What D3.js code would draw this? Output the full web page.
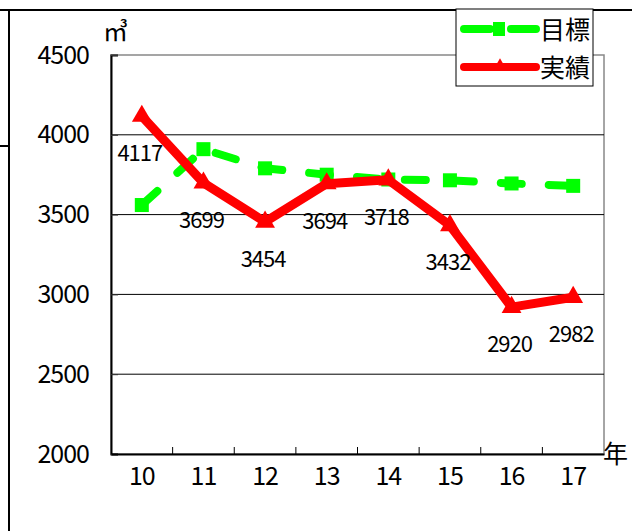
<!DOCTYPE html>
<html>
<head>
<meta charset="utf-8">
<script src="https://cdn.jsdelivr.net/npm/d3@7"></script>
<style>
  body { margin: 0; background: #fff; }
  svg { font-family: "Noto Sans CJK JP", "DejaVu Sans", sans-serif; }
</style>
</head>
<body>
<div id="chart-area"></div>
<script>
// data
var years = ["10", "11", "12", "13", "14", "15", "16", "17"];
var target = [3560, 3910, 3790, 3750, 3720, 3715, 3695, 3680];
var actual = [4117, 3699, 3454, 3694, 3718, 3432, 2920, 2982];
var yTicks = [2000, 2500, 3000, 3500, 4000, 4500];

var width = 632, height = 531;
var plotLeft = 111, plotRight = 604, plotTop = 55, plotBottom = 454;

var svg = d3
  .select("#chart-area")
  .append("svg")
  .attr("width", width)
  .attr("height", height);

// outer frame lines (page table borders)
svg.append("line").attr("x1", 0).attr("x2", width).attr("y1", 10).attr("y2", 10)
  .attr("stroke", "#000").attr("stroke-width", 2);
svg.append("line").attr("x1", 9).attr("x2", 9).attr("y1", 10).attr("y2", height)
  .attr("stroke", "#000").attr("stroke-width", 2);
svg.append("line").attr("x1", 0).attr("x2", 9).attr("y1", 146).attr("y2", 146)
  .attr("stroke", "#000").attr("stroke-width", 2);

var x = d3.scaleBand().domain(years).range([plotLeft, plotRight]);
var y = d3.scaleLinear().domain([2000, 4500]).range([plotBottom, plotTop]);

// plot frame (top/right in gray)
svg.append("rect")
  .attr("x", plotLeft).attr("y", plotTop)
  .attr("width", plotRight - plotLeft).attr("height", plotBottom - plotTop)
  .attr("fill", "#fff").attr("stroke", "#888").attr("stroke-width", 1.5);

// gridlines
svg.selectAll(".grid")
  .data(yTicks.filter(d => d > 2000 && d < 4500))
  .enter()
  .append("line")
  .attr("x1", plotLeft).attr("x2", plotRight)
  .attr("y1", d => y(d)).attr("y2", d => y(d))
  .attr("stroke", "#000").attr("stroke-width", 1);

// y axis
var yAxis = svg.append("g")
  .attr("transform", "translate(" + plotLeft + ",0)")
  .call(d3.axisLeft(y).tickValues(yTicks).tickFormat(d3.format("d")).tickSize(-7).tickPadding(22));
yAxis.select(".domain").attr("stroke", "#000").attr("stroke-width", 2);
yAxis.selectAll(".tick line").attr("stroke", "#333");
yAxis.selectAll("text").attr("font-size", 25).attr("letter-spacing", -1).attr("fill", "#000")
  .attr("font-family", "Noto Sans CJK JP");

// x axis, ticks at band boundaries
var xAxis = svg.append("g")
  .attr("transform", "translate(0," + plotBottom + ")")
  .call(d3.axisBottom(x).tickSize(0).tickPadding(13));
xAxis.select(".domain").attr("stroke", "#000").attr("stroke-width", 2);
xAxis.selectAll("text").attr("font-size", 25).attr("letter-spacing", -1).attr("fill", "#000")
  .attr("font-family", "Noto Sans CJK JP");
svg.selectAll(".xtick")
  .data(years.slice(1))
  .enter()
  .append("line")
  .attr("x1", d => x(d)).attr("x2", d => x(d))
  .attr("y1", plotBottom).attr("y2", plotBottom - 7)
  .attr("stroke", "#000").attr("stroke-width", 1);

// unit labels
svg.append("text").attr("x", 103).attr("y", 41).attr("font-size", 25).text("㎥");
svg.append("text").attr("x", 603).attr("y", 463).attr("font-size", 25).text("年");

var cx = d => x(d) + x.bandwidth() / 2;

// target series (green dashed with squares)
var lineT = d3.line().x((d, i) => cx(years[i])).y(d => y(d));
svg.append("path")
  .datum(target)
  .attr("d", lineT)
  .attr("fill", "none")
  .attr("stroke", "#00ff00")
  .attr("stroke-width", 8)
  .attr("stroke-linecap", "round")
  .attr("stroke-dasharray", "21,27");
svg.selectAll(".sq")
  .data(target)
  .enter()
  .append("rect")
  .attr("x", (d, i) => cx(years[i]) - 7)
  .attr("y", d => y(d) - 7)
  .attr("width", 14).attr("height", 14)
  .attr("fill", "#00ff00");

// actual series (red with triangles)
svg.append("path")
  .datum(actual)
  .attr("d", lineT)
  .attr("fill", "none")
  .attr("stroke", "#ff0000")
  .attr("stroke-width", 9)
  .attr("stroke-linejoin", "round");
svg.selectAll(".tri")
  .data(actual)
  .enter()
  .append("path")
  .attr("d", d3.symbol().type(d3.symbolTriangle).size(170))
  .attr("transform", (d, i) => "translate(" + cx(years[i]) + "," + y(d) + ")")
  .attr("fill", "#ff0000");

// value labels
svg.selectAll(".lbl")
  .data(actual)
  .enter()
  .append("text")
  .attr("x", (d, i) => cx(years[i]) - 2)
  .attr("y", d => y(d) + 45)
  .attr("text-anchor", "middle")
  .attr("font-size", 22)
  .attr("letter-spacing", -1)
  .attr("fill", "#000")
  .text(d => d);

// legend
var legend = svg.append("g");
legend.append("rect")
  .attr("x", 456).attr("y", 9).attr("width", 137).attr("height", 77)
  .attr("fill", "#fff").attr("stroke", "#000").attr("stroke-width", 1);
legend.append("line").attr("x1", 464).attr("x2", 536).attr("y1", 29).attr("y2", 29)
  .attr("stroke", "#00ff00").attr("stroke-width", 8).attr("stroke-linecap", "round")
  .attr("stroke-dasharray", "26,21");
legend.append("rect").attr("x", 493).attr("y", 22).attr("width", 12).attr("height", 14)
  .attr("fill", "#00ff00");
legend.append("text").attr("x", 540).attr("y", 39).attr("font-size", 25).text("目標");
legend.append("line").attr("x1", 464).attr("x2", 536).attr("y1", 67).attr("y2", 67)
  .attr("stroke", "#ff0000").attr("stroke-width", 8).attr("stroke-linecap", "round");
legend.append("path")
  .attr("d", d3.symbol().type(d3.symbolTriangle).size(60))
  .attr("transform", "translate(500,65)")
  .attr("fill", "#ff0000");
legend.append("text").attr("x", 540).attr("y", 77).attr("font-size", 25).text("実績");
</script>
</body>
</html>
